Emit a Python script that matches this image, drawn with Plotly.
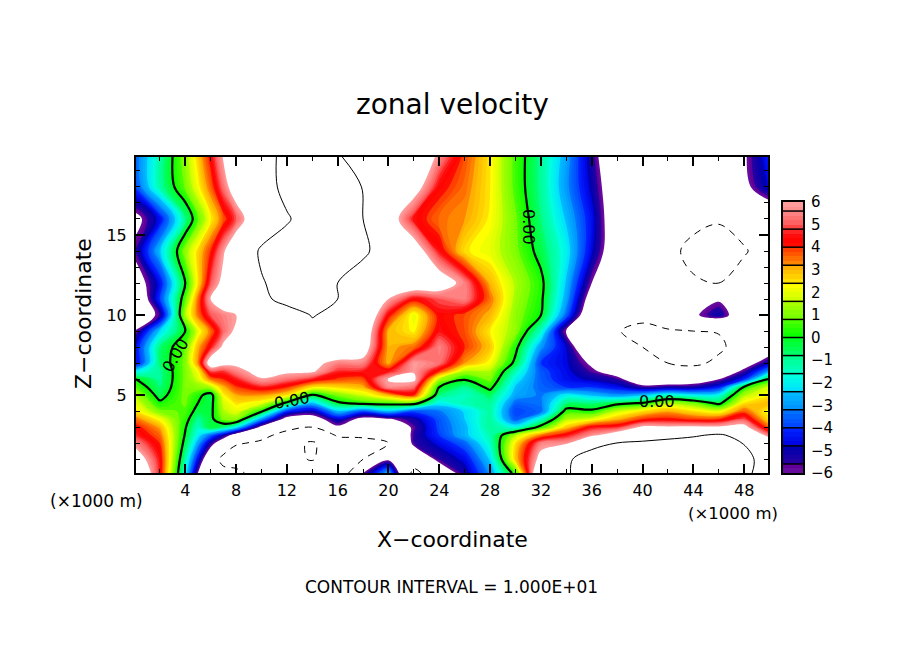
import plotly.graph_objects as go

W, H = 888, 638   # the page adds an 8 px body margin on every side
def fx(px):
    return (px - 8) / W
def fy(py):
    return 1 - (py - 8) / H

x_km = [0.125, 2, 4, 5, 6, 7, 8, 10, 12, 14, 16, 18, 20, 22, 24, 26, 28, 30, 32, 34, 36, 38, 40, 42, 44, 46, 48, 49.875]
z_km = [19.9, 18, 16, 14, 12, 11, 10, 9, 8, 7, 6.5, 6, 5.5, 5, 4.5, 4, 3.5, 3, 2.5, 2, 1, 0.14]

# zonal velocity, rows from top to bottom
row_19_9 = [-3.5, -1.2, 1.2, 2.7, 4.3, 6.1, 8, 9, 10.7, 11, 10.2, 9, 8.5, 8, 5.6, 3.8, 2.4, .6, -1, -2.8, -5.3, -8, -8.5, -8.5, -8, -7.5, -6.2, -4.3]
row_18 = [-3.8, -1.2, .9, 2.2, 3.6, 5.3, 7, 9, 10.6, 11.5, 11.5, 9.9, 9, 6.8, 4.3, 3.5, 2.4, .6, -1, -3, -5, -7.5, -8.5, -8.5, -8, -7.5, -6.5, -4.7]
row_16 = [-6.5, -4.5, -1, .7, 2.3, 3.7, 5, 8, 9.8, 11, 11, 10, 7, 4.5, 3.5, 3.2, 2.3, .9, -.8, -2.5, -4.5, -7.5, -8.5, -9, -9.5, -9.8, -9, -8]
row_14 = [-5.5, -2.5, 1.2, 2.6, 4, 5.8, 7.5, 10.4, 10.9, 12, 12, 10.7, 8, 7, 4.5, 2.5, 2, 1, -.4, -2, -4.7, -7.5, -8.5, -9.5, -10.5, -11, -10.2, -9]
row_12 = [-7, -4.5, 0, 2.5, 5, 6.5, 8, 9.8, 11, 12, 10, 8, 7.5, 7.5, 7, 5.5, 3, 1.5, .3, -2.5, -6, -8, -8.5, -9, -9.8, -10, -9, -8]
row_11 = [-8, -4, .7, 3.5, 6, 7.3, 8.5, 9.5, 10.7, 11, 10, 8.5, 6, 4.3, 5, 5.5, 3.5, 1.4, .2, -2.8, -7, -8, -8.5, -8, -7.5, -6.2, -7.5, -7.5]
row_10 = [-8, -5.5, 1.5, 3.5, 5, 5.5, 6, 7.5, 9, 10.1, 9.5, 8, 4.3, 2, 4.3, 3.8, 3, 1.2, 0, -3.5, -8, -9, -9, -8, -6.3, -5, -7.5, -7.5]
row_9 = [-5.8, -2.3, 0, 2, 3.5, 5.2, 6.3, 7.5, 8.5, 9.5, 8.5, 7.5, 3, 2.3, 4.5, 3.8, 2.4, 1.2, -1.5, -6.2, -9, -9.8, -11, -10.3, -10, -9.9, -9.5, -8]
row_8 = [-4.5, -.8, .8, 3, 4.5, 6.3, 7.5, 8, 8.5, 8.8, 8, 7, 3, 3.5, 5.5, 4, 2.8, .3, -3, -4.8, -8.5, -9.5, -10, -10.6, -11, -10.4, -9, -7.5]
row_7 = [-4.6, -.7, 1, 3.3, 7, 6.5, 6.3, 7, 7, 6.5, 5.5, 5.5, 3, 5.9, 5.3, 3.2, 2.2, -.3, -4, -4.7, -6.3, -8, -9.3, -10, -10.5, -9.5, -7, -5]
row_6_5 = [-2, -1, 1, 2.2, 5, 4.8, 5.5, 6.6, 6.3, 6.2, 4.7, 4.6, 4.5, 5.9, 4, 1.5, 1.5, -1.3, -3.7, -4.6, -5.7, -7, -8.5, -9.5, -9, -7.7, -5.6, -3]
row_6 = [0, -1, 1, 1.8, 3.5, 4, 4.6, 5.9, 5.3, 4.6, 3.9, 3.8, 6.1, 6.3, 1.5, .1, 1, -2, -3.6, -4.5, -5, -5.5, -7.5, -7.5, -7, -6, -4.2, 0]
row_5_5 = [.7, -.8, 1, 1.2, 1.5, 3, 3.9, 4.6, 4, 2.5, 2.6, 3, 5.7, 5.2, 0, -1, .3, -2.5, -3.5, -4, -4, -4.5, -5.5, -5.3, -5.3, -4.3, .2, 1.8]
row_5 = [1.5, -.4, 1, .3, -.5, 2.3, 3.1, 3.2, 2.5, -.2, 1, 1.8, 3, 4, -.8, -1.5, -.6, -2.8, -3.3, -2, -2.5, -3, -2.5, -1.5, -2, -1.8, 1.5, 2.3]
row_4_5 = [2, .2, .9, 0, -.4, 1.8, 2.5, 2, -.3, -2.5, -.2, .4, .5, .5, -2, -1.3, -1, -3.5, -3.3, -.8, -.8, -.3, .1, 1.5, 1, -.3, 2.5, 3]
row_4 = [2.5, 1, .7, -.4, -.3, 1.5, 2, .2, -4, -5, -2.5, -3.7, -2.5, -3.8, -3.3, -2.3, -1.1, -4, -3.5, .4, .2, 1.7, 2.5, 3.1, 2.5, 2, 3.7, 2.2]
row_3_5 = [3.5, 2.2, .4, -1, -.3, 1, 1.2, -3, -6.8, -7, -4.8, -6.6, -6.2, -5.2, -3.7, -2.4, -1, -3.7, -1.5, 1.5, 2, 3, 4, 4.2, 3.9, 4, 5, 2.6]
row_3 = [4.3, 3.1, .1, -1.5, -.2, -.8, -2, -6.5, -9.2, -10, -6.3, -8, -8, -5.7, -3.8, -2.6, -1, -1.8, .4, 2.8, 4.5, 4.7, 6.3, 6.2, 6.3, 6.2, 6.5, 3.7]
row_2_5 = [4.7, 3.6, -.1, -2, -3.5, -5, -7, -9.2, -11, -14, -9.5, -9.5, -9.3, -5.5, -4, -2.6, -1.3, 1.5, 3.5, 4.5, 5.7, 7, 8.5, 9, 9.6, 10.5, 8.7, 5.5]
row_2 = [5.5, 4, -.4, -2.8, -5.3, -7.5, -9.7, -10.5, -16, -21.5, -12, -11, -10, -5.6, -4.6, -3.5, -1.5, 2.5, 5.5, 5.8, 9, 10.1, 10.5, 11, 11.5, 11.5, 9.9, 8]
row_1 = [7, 4.5, -1.2, -4.5, -8, -11, -12, -14, -18, -20.5, -15, -10, -6.3, -8, -5.5, -4.6, -2.3, 2.8, 6.6, 9.5, 11.5, 12, 13, 13, 13, 12.5, 10.7, 9]
row_0 = [8.5, 4.5, -1.8, -6, -7.5, -9, -9, -12, -14, -15, -13, -6, -2.5, -11, -7.5, -5.2, -3, .5, 8.5, 9.7, 11.5, 12, 12.5, 12.5, 12, 12, 10.5, 9]

rows = [row_19_9, row_18, row_16, row_14, row_12, row_11, row_10, row_9, row_8, row_7, row_6_5, row_6,
        row_5_5, row_5, row_4_5, row_4, row_3_5, row_3, row_2_5, row_2, row_1, row_0]

x_ticks = [4, 8, 12, 16, 20, 24, 28, 32, 36, 40, 44, 48]
z_ticks = [5, 10, 15]
bar_labels = [6, 5, 4, 3, 2, 1, 0, -1, -2, -3, -4, -5, -6]
bar_edges = [5.6, 4.8, 4.0, 3.2, 2.4, 1.6, 0.8, 0, -0.8, -1.6, -2.4, -3.2, -4.0, -4.8, -5.6]

# palette: level value, colour
palette = [
    (-6.0, "#6a0fa0"), (-5.7, "#600099"), (-5.6, "#2a00a0"), (-4.9, "#0000b0"), (-4.8, "#0000e0"),
    (-4.1, "#0020ff"), (-4.0, "#0040ff"), (-3.3, "#0070ff"), (-3.2, "#0090ff"), (-2.5, "#00b8ff"),
    (-2.4, "#00e0ff"), (-1.7, "#00ffe0"), (-1.6, "#00ffc8"), (-0.9, "#00ff90"), (-0.8, "#00ff70"),
    (-0.1, "#00ff28"), (0.0, "#00ff00"), (0.7, "#48ff00"), (0.8, "#70ff00"), (1.5, "#a8ff00"),
    (1.6, "#c8ff00"), (2.3, "#ffff00"), (2.4, "#ffe800"), (3.1, "#ffb000"), (3.2, "#ff9000"),
    (3.9, "#ff4000"), (4.0, "#ff1000"), (4.4, "#ff0000"), (4.8, "#ff3030"), (5.0, "#ff5a5a"),
    (5.6, "#ff8a8a"), (6.0, "#ffa0a0"),
]
STEP = 0.2
LOW, HIGH = -6 - STEP / 2, 6 + STEP / 2
def pos(v):
    return (v - LOW) / (HIGH - LOW)
colorscale = [[0, "white"], [pos(-6.02), "white"]]
colorscale += [[pos(v), c] for v, c in palette]
colorscale += [[pos(6.02), "white"], [1, "white"]]

fig = go.Figure()
fig.add_trace(go.Contour(
    x=x_km, y=z_km[::-1], z=rows[::-1], colorscale=colorscale, showscale=False, autocontour=False,
    contours=dict(start=-6, end=6, size=STEP, coloring="fill", showlines=False),
    line=dict(width=0, smoothing=1), hoverinfo="skip"))
fig.add_trace(go.Contour(
    x=x_km, y=z_km[::-1], z=rows[::-1], showscale=False, autocontour=False,
    contours=dict(start=0, end=0, size=1, coloring="lines"),
    line=dict(color="black", width=2.2, smoothing=1), colorscale=[[0, "black"], [1, "black"]], hoverinfo="skip"))
fig.add_trace(go.Contour(
    x=x_km, y=z_km[::-1], z=rows[::-1], showscale=False, autocontour=False,
    contours=dict(start=10, end=10, size=10, coloring="lines"),
    line=dict(color="black", width=1, smoothing=1), colorscale=[[0, "black"], [1, "black"]], hoverinfo="skip"))
fig.add_trace(go.Contour(
    x=x_km, y=z_km[::-1], z=rows[::-1], showscale=False, autocontour=False,
    contours=dict(start=-20, end=-10, size=10, coloring="lines"),
    line=dict(color="black", width=1, dash="7px,6px", smoothing=1), colorscale=[[0, "black"], [1, "black"]], hoverinfo="skip"))

# colour bar drawn from the same palette
bar_y = [-6 + STEP * (i + 0.5) for i in range(60)]
fig.add_trace(go.Heatmap(
    x=[0, 1], y=bar_y, z=[[v, v] for v in bar_y], colorscale=colorscale, zmin=LOW, zmax=HIGH,
    showscale=False, xaxis="x2", yaxis="y2", hoverinfo="skip"))

font = "DejaVu Sans"
fig.update_layout(
    template="none",
    width=W, height=H, autosize=False, margin=dict(l=0, r=0, t=0, b=0, pad=0),
    paper_bgcolor="white", plot_bgcolor="white", showlegend=False,
    font=dict(family=font, color="black"),
    xaxis=dict(domain=[fx(136), fx(768)], range=[0.125, 49.875], tickvals=x_ticks, ticks="inside", ticklen=9,
               tickwidth=2, tickcolor="black", showline=True, linewidth=2, linecolor="black", mirror="ticks",
               automargin=False, showgrid=False, zeroline=False, tickfont=dict(size=16), ticklabelstandoff=2,
               minor=dict(dtick=2, tick0=0, ticks="inside", ticklen=4, tickwidth=1, tickcolor="black", showgrid=False)),
    yaxis=dict(domain=[fy(473), fy(156.5)], range=[0.14, 19.9], tickvals=z_ticks, ticks="inside", ticklen=9,
               tickwidth=2, tickcolor="black", showline=True, linewidth=2, linecolor="black", mirror="ticks",
               automargin=False, showgrid=False, zeroline=False, tickfont=dict(size=16), ticklabelstandoff=4,
               minor=dict(dtick=1, tick0=0, ticks="inside", ticklen=4, tickwidth=1, tickcolor="black", showgrid=False)),
    xaxis2=dict(domain=[fx(783), fx(803)], range=[0, 1], anchor="y2", showticklabels=False, ticks="",
                automargin=False, showline=True, linewidth=2, linecolor="black", mirror=True, showgrid=False, zeroline=False),
    yaxis2=dict(domain=[fy(473), fy(202)], range=[-6, 6], anchor="x2", side="right",
                tickvals=bar_labels, ticktext=[str(v).replace("-", "\u2212") for v in bar_labels],
                automargin=False, ticks="", tickfont=dict(size=15), ticklabelstandoff=3, showline=True, linewidth=2,
                linecolor="black", mirror=True, showgrid=False, zeroline=False),
)
for e in bar_edges:
    fig.add_shape(type="line", xref="x2", yref="y2", x0=0, x1=1, y0=e, y1=e, line=dict(color="black", width=1.5))

def label(text, px, py, size, angle=0, xanchor="center"):
    fig.add_annotation(text=text, x=fx(px), y=fy(py), xref="paper", yref="paper", showarrow=False,
                       font=dict(size=size, family=font, color="black"), textangle=angle, xanchor=xanchor, yanchor="middle")

label("zonal velocity", 452, 104, 28)
label("X\u2212coordinate", 452, 539, 22)
label("Z\u2212coordinate", 84, 314, 22, angle=-90)
label("CONTOUR INTERVAL = 1.000E+01", 451, 587, 17)
label("(\u00d71000 m)", 96, 501, 17)
label("(\u00d71000 m)", 733, 513, 16.5)
label("0.00", 292, 400, 16, angle=-10)
label("0.00", 657, 401, 16)
label("0.00", 529, 227, 16, angle=90)
label("0.00", 175, 355, 16, angle=-60)

fig.write_html("out.html")
